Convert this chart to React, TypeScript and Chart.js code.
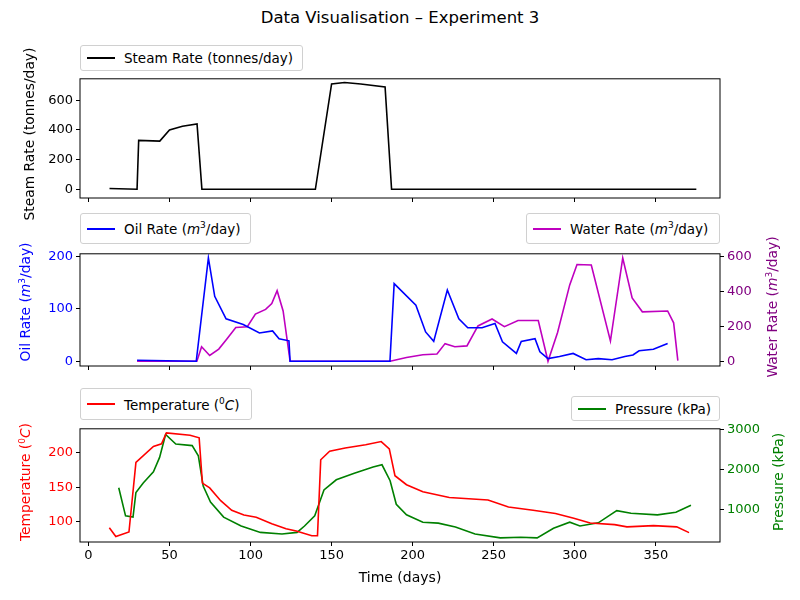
import React, { useEffect, useRef } from "react";
import Chart from "chart.js/auto";

const steamDays = [13, 30, 31, 44, 50, 58, 67, 70, 140, 150, 158, 168, 183, 187, 375];
const steamRate = [5, 0, 330, 325, 400, 425, 440, 0, 0, 710, 720, 710, 690, 0, 0];

const oilDays = [30, 66.5, 74, 77.9, 84.9, 95.5, 105.5, 113.6, 117.6, 123.7, 124.4, 186, 188.6, 202, 208, 213, 221.4, 228.5, 234, 242.8, 250.8, 255.4, 264, 267, 275.5, 278.5, 283.5, 290.6, 299, 307, 314.5, 323, 330.9, 335.9, 339.7, 348.5, 357.3];
const oilRate = [2, 0, 197, 124, 81, 70, 54, 58, 43, 39, 0, 0, 148, 107, 56, 38, 136, 81, 64, 64, 72, 37, 15, 38, 43, 18, 5, 9, 15, 3, 5, 3, 9, 12, 20, 23, 34];

const waterDays = [30, 66.9, 69.8, 74.8, 80.4, 85.4, 90.9, 98, 103, 109.3, 113.1, 116.4, 120.1, 124.4, 186.1, 196.2, 206.3, 215, 220, 226, 233.5, 240.3, 249, 256.6, 265, 277.5, 283.5, 289.4, 296.9, 301.4, 310.2, 322, 329.6, 335.4, 341.7, 357.3, 361, 363.6];
const waterRate = [0, 0, 83, 33, 70, 128, 193, 198, 270, 297, 330, 404, 288, 0, 0, 22, 37, 42, 101, 83, 88, 202, 242, 198, 233, 233, 0, 165, 437, 554, 551, 116, 591, 362, 283, 288, 220, 4];

const tempDays = [12.9, 16.9, 25, 29.3, 40.1, 45.1, 48.1, 62.7, 68.3, 70.3, 74.8, 81.6, 88.4, 95.9, 103.5, 113.1, 121.9, 128.2, 137.8, 141.3, 143.3, 148.8, 158.4, 171, 180.6, 185.6, 189.1, 196.2, 206.3, 222.6, 246.5, 259.1, 274.3, 288.1, 299.4, 309.5, 324.6, 332.2, 348.6, 362.9, 370.5];
const temperature = [91.4, 79, 85.4, 185.7, 208.7, 212.4, 228, 224.8, 221.1, 155.8, 148.9, 130.5, 116.7, 109.8, 106.6, 97.4, 90, 86.8, 79.9, 79.9, 189.4, 201.8, 206.4, 211, 215.6, 205, 166.4, 153.5, 143.4, 135.1, 131.4, 121.3, 116.7, 112.1, 105.2, 98.3, 96, 92.8, 94.6, 92.8, 84.5];

const pressureDays = [18.7, 22.9, 27.5, 29.3, 33.8, 40.1, 43.9, 47.6, 53.9, 64, 67.8, 70.8, 75.3, 83.4, 94.2, 106.1, 119.4, 128.7, 133.3, 139.6, 145.3, 152.9, 164, 175.6, 181.1, 186.1, 189.9, 196.2, 206.3, 215.8, 226.4, 238.5, 254.1, 266.7, 276.8, 286.9, 296.9, 303.2, 314.5, 325.9, 334.7, 351, 362.4, 371.7];
const pressure = [1547, 850, 818, 1429, 1666, 1943, 2300, 2870, 2632, 2593, 2339, 1587, 1191, 818, 597, 438, 398, 438, 597, 850, 1492, 1745, 1904, 2062, 2117, 1721, 1136, 874, 692, 668, 573, 398, 303, 319, 303, 541, 692, 597, 676, 977, 914, 874, 937, 1112];

const dayTicks = [0, 50, 100, 150, 200, 250, 300, 350];
const steamTicks = [0, 200, 400, 600];
const oilTicks = [0, 100, 200];
const waterTicks = [0, 200, 400, 600];
const tempTicks = [100, 150, 200];
const pressureTicks = [1000, 2000, 3000];

const FONT = "DejaVu Sans";
const pts = (xs: number[], ys: number[]) => xs.map((x, i) => ({ x, y: ys[i] }));

const boxPlugin = {
    id: "box",
    afterDraw(chart: any) {
        const { ctx, chartArea: a } = chart;
        ctx.save();
        ctx.strokeStyle = "#000";
        ctx.lineWidth = 1;
        ctx.strokeRect(a.left, a.top, a.right - a.left, a.bottom - a.top);
        ctx.restore();
    },
};

const yAxis = (position: string, min: number, max: number, tickList: number[], color: string) => ({
    type: "linear",
    position,
    min,
    max,
    afterFit: (s: any) => { s.width = 80; },
    afterBuildTicks: (s: any) => { s.ticks = tickList.map((value) => ({ value })); },
    grid: { drawOnChartArea: false, drawTicks: true, tickLength: 4, tickColor: "#000" },
    border: { display: false },
    ticks: { color, padding: 3, font: { family: FONT, size: 13 }, callback: (v: any) => String(v) },
});

const xAxis = (labels: boolean) => ({
    type: "linear",
    min: -5.2,
    max: 389.6,
    afterFit: (s: any) => { s.height = labels ? 45 : 15; },
    afterBuildTicks: (s: any) => { s.ticks = dayTicks.map((value) => ({ value })); },
    grid: { drawOnChartArea: false, drawTicks: true, tickLength: 4, tickColor: "#000" },
    border: { display: false },
    ticks: {
        color: "#000",
        padding: 2,
        font: { family: FONT, size: 13 },
        callback: (v: any) => (labels ? String(v) : ""),
    },
    title: { display: labels, text: "Time (days)", color: "#000", padding: 0, font: { family: FONT, size: 14 } },
});

const line = (data: any[], color: string, yAxisID: string) => ({
    data,
    borderColor: color,
    borderWidth: 1.6,
    pointRadius: 0,
    tension: 0,
    yAxisID,
});

const Panel = ({ top, height, config }: { top: number; height: number; config: any }) => {
    const ref = useRef<HTMLCanvasElement | null>(null);
    useEffect(() => {
        const ctx = ref.current?.getContext("2d");
        if (!ctx) return;
        const chart = new Chart(ctx, config);
        return () => chart.destroy();
    }, []);
    return (
        <div style={{ position: "absolute", left: 0, top, width: 800, height }}>
            <canvas ref={ref} />
        </div>
    );
};

const Legend = ({ left, top, width, height, color, children }: any) => (
    <div
        style={{
            position: "absolute", left, top, width, height, boxSizing: "border-box",
            border: "1px solid #d0d0d0", borderRadius: 3, background: "#fff",
            display: "flex", alignItems: "center", fontSize: 13.5, color: "#000",
        }}
    >
        <div style={{ width: 28, height: 0, borderTop: `2px solid ${color}`, marginLeft: 6, marginRight: 9 }} />
        <span style={{ whiteSpace: "nowrap" }}>{children}</span>
    </div>
);

const AxisTitle = ({ cx, cy, color, children }: any) => (
    <div
        style={{
            position: "absolute", left: cx, top: cy, transform: "translate(-50%, -50%) rotate(-90deg)",
            whiteSpace: "nowrap", fontSize: 13.8, color,
        }}
    >
        {children}
    </div>
);

const commonOptions = (scales: any, padRight: number) => ({
    animation: false,
    responsive: true,
    maintainAspectRatio: false,
    layout: { padding: { top: 5, right: padRight, left: 0, bottom: 0 } },
    plugins: { legend: { display: false }, tooltip: { enabled: false } },
    scales,
});

const m3 = <>(<i>m</i><sup style={{ fontSize: 9 }}>3</sup>/day)</>;

const App = () => {
    const steamCfg = {
        type: "line",
        data: { datasets: [line(pts(steamDays, steamRate), "#000000", "y")] },
        options: commonOptions({ x: xAxis(false), y: yAxis("left", -59, 745, steamTicks, "#000") }, 80),
        plugins: [boxPlugin],
    };
    const fluidCfg = {
        type: "line",
        data: {
            datasets: [
                line(pts(oilDays, oilRate), "#0000ff", "y"),
                line(pts(waterDays, waterRate), "#bf00bf", "y2"),
            ],
        },
        options: commonOptions({
            x: xAxis(false),
            y: yAxis("left", -9, 205, oilTicks, "#0000ff"),
            y2: yAxis("right", -27, 615, waterTicks, "#800080"),
        }, 0),
        plugins: [boxPlugin],
    };
    const tpCfg = {
        type: "line",
        data: {
            datasets: [
                line(pts(tempDays, temperature), "#ff0000", "y"),
                line(pts(pressureDays, pressure), "#008000", "y2"),
            ],
        },
        options: commonOptions({
            x: xAxis(true),
            y: yAxis("left", 71, 234, tempTicks, "#ff0000"),
            y2: yAxis("right", 200, 3010, pressureTicks, "#008000"),
        }, 0),
        plugins: [boxPlugin],
    };
    return (
        <div style={{ position: "fixed", left: 0, top: 0, width: 800, height: 600, background: "#fff", fontFamily: FONT }}>
            <div style={{ position: "absolute", top: 8, width: 800, textAlign: "center", fontSize: 16.5 }}>
                Data Visualisation – Experiment 3
            </div>
            <Panel top={68} height={145} config={steamCfg} />
            <Panel top={243} height={138} config={fluidCfg} />
            <Panel top={418} height={169} config={tpCfg} />
            <AxisTitle cx={29} cy={134} color="#000">Steam Rate (tonnes/day)</AxisTitle>
            <AxisTitle cx={25} cy={302} color="#0000ff">Oil Rate {m3}</AxisTitle>
            <AxisTitle cx={772} cy={307} color="#800080">Water Rate {m3}</AxisTitle>
            <AxisTitle cx={25} cy={482} color="#ff0000">Temperature (<sup style={{ fontSize: 9 }}>0</sup><i>C</i>)</AxisTitle>
            <AxisTitle cx={778} cy={482} color="#008000">Pressure (kPa)</AxisTitle>
            <Legend left={80} top={45} width={223} height={26} color="#000000">Steam Rate (tonnes/day)</Legend>
            <Legend left={80} top={213} width={171} height={31} color="#0000ff">Oil Rate {m3}</Legend>
            <Legend left={526} top={213} width={194} height={31} color="#bf00bf">Water Rate {m3}</Legend>
            <Legend left={80} top={388} width={172} height={32} color="#ff0000">Temperature (<sup style={{ fontSize: 9 }}>0</sup><i>C</i>)</Legend>
            <Legend left={571} top={396} width={149} height={25} color="#008000">Pressure (kPa)</Legend>
        </div>
    );
};

export default App;
